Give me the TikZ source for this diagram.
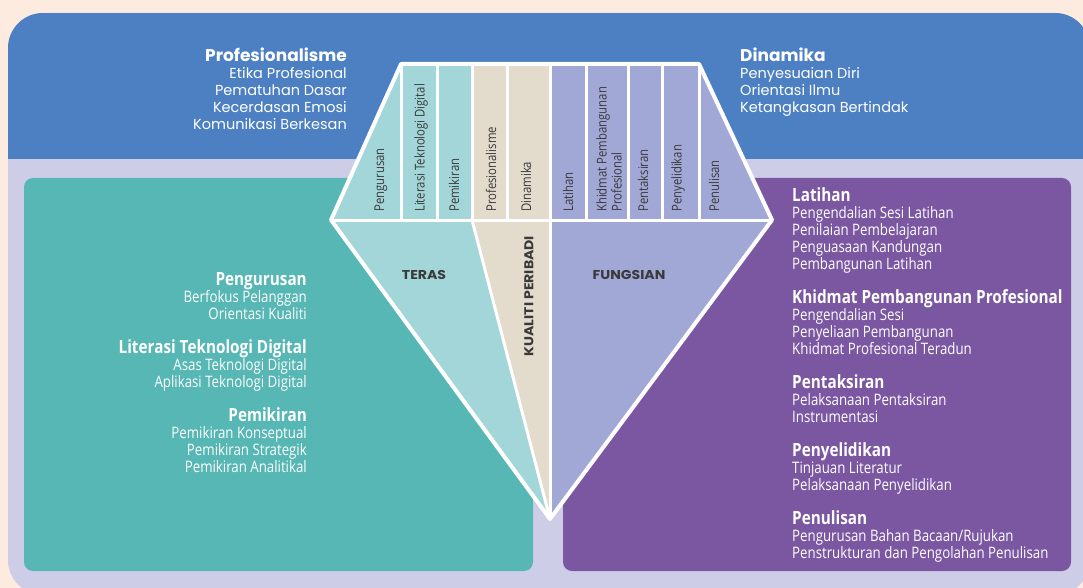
\documentclass[tikz,border=0pt]{standalone}
\usepackage{fontspec}
\newfontfamily\headfont{Poppins}
\newfontfamily\partfont[FakeStretch=1.1]{Poppins}
\newfontfamily\condfont[FakeStretch=0.84]{Open Sans}
\usetikzlibrary{positioning, calc}
\definecolor{peach}{HTML}{FDEBE0}
\definecolor{framebg}{HTML}{CDCDE8}
\definecolor{topblue}{HTML}{4D80C2}
\definecolor{terasbox}{HTML}{56B7B5}
\definecolor{fungsibox}{HTML}{7B57A2}
\definecolor{teraslight}{HTML}{A3D6D9}
\definecolor{kualiti}{HTML}{E3DBCC}
\definecolor{fungsilight}{HTML}{A1A8D6}
\definecolor{inkgrey}{HTML}{3A3A3A}
\newcommand{\headtitle}{\headfont\bfseries\fontsize{17}{17}\selectfont}
\newcommand{\boxtitle}{\condfont\bfseries\fontsize{18.2}{17}\selectfont}
\tikzset{
    sep/.style = {white, line width=3pt}, % white lines inside the gem
    gem/.style = {white, line width=4pt, line join=round},
    cell/.style = {rotate=90, anchor=west, inner sep=0pt, text=inkgrey, align=left,
                   font=\condfont\fontsize{13.5}{15}\selectfont},
    part/.style = {text=inkgrey, inner sep=0pt, font=\partfont\bfseries\fontsize{12.8}{14}\selectfont},
    toptext/.style = {text=white, inner sep=0pt, font=\headfont\fontsize{14.5}{17}\selectfont},
    boxtext/.style = {text=white, inner sep=0pt, font=\condfont\fontsize{15.8}{17}\selectfont}
}
\begin{document}
\begin{tikzpicture}[x=1pt, y=-1pt]
\useasboundingbox (0,0) rectangle (1083,588);
\fill[peach] (0,0) rectangle (1083,588);
% frame and blue band
\fill[framebg, rounded corners=35] (8,13) rectangle (1090,595);
\begin{scope}
  \clip[rounded corners=35] (8,13) rectangle (1090,595);
  \fill[topblue] (8,13) rectangle (1090,159);
\end{scope}
\fill[terasbox, rounded corners=9] (24,178) rectangle (533,571);
\fill[fungsibox, rounded corners=9] (563,178) rectangle (1071,571);

% gem corners
\coordinate (A) at (401,64);
\coordinate (B) at (699,64);
\coordinate (L) at (331,220);
\coordinate (R) at (772,220);
\coordinate (V) at (550,519);
\coordinate (ktop) at (472,64);
\coordinate (kmid) at (472,220);
\coordinate (ftop) at (550,64);
\coordinate (fmid) at (550,220);

\fill[teraslight] (A) -- (ktop) -- (kmid) -- (L) -- cycle;
\fill[kualiti] (ktop) -- (ftop) -- (fmid) -- (kmid) -- cycle;
\fill[fungsilight] (ftop) -- (B) -- (R) -- (fmid) -- cycle;
\fill[teraslight] (L) -- (kmid) -- (V) -- cycle;
\fill[kualiti] (kmid) -- (fmid) -- (V) -- cycle;
\fill[fungsilight] (fmid) -- (R) -- (V) -- cycle;

\foreach \x in {401,437,472,507,550,586,628,662,699}
  \draw[sep] (\x,64) -- (\x,220);
\draw[sep] (L) -- (R);
\draw[sep] (kmid) -- (V);
\draw[sep] (fmid) -- (V);
\draw[gem] (A) -- (B) -- (R) -- (V) -- (L) -- cycle;

% cells
\node[cell] (c1) at (381,212) {Pengurusan};
\node[cell] (c2) at (421,212) {Literasi Teknologi Digital};
\node[cell] (c3) at (454,212) {Pemikiran};
\node[cell] (c4) at (491,212) {Profesionalisme};
\node[cell] (c5) at (526,212) {Dinamika};
\node[cell] (c6) at (568,212) {Latihan};
\node[cell] (c7) at (609,212) {Khidmat Pembangunan\\Profesional};
\node[cell] (c8) at (643,212) {Pentaksiran};
\node[cell] (c9) at (678,212) {Penyelidikan};
\node[cell] (c10) at (714,212) {Penulisan};

\node[part] (teras) at (424,275) {TERAS};
\node[part] (fungsian) at (629,275) {FUNGSIAN};
\node[part, rotate=90] (kp) at (529,296) {KUALITI PERIBADI};

% top texts (base anchor = last line)
\node[toptext, align=right, anchor=base east] (prof) at (347,130)
  {{\headtitle Profesionalisme}\\Etika Profesional\\Pematuhan Dasar\\Kecerdasan Emosi\\Komunikasi Berkesan};
\node[toptext, align=left, anchor=base west] (din) at (740,113)
  {{\headtitle Dinamika}\\Penyesuaian Diri\\Orientasi Ilmu\\Ketangkasan Bertindak};

% teras box
\node[boxtext, align=right, anchor=base east] (peng) at (307,319)
  {{\boxtitle Pengurusan}\\Berfokus Pelanggan\\Orientasi Kualiti};
\node[boxtext, align=right, anchor=base east] (lit) at (307,387)
  {{\boxtitle Literasi Teknologi Digital}\\Asas Teknologi Digital\\Aplikasi Teknologi Digital};
\node[boxtext, align=right, anchor=base east] (pem) at (307,472)
  {{\boxtitle Pemikiran}\\Pemikiran Konseptual\\Pemikiran Strategik\\Pemikiran Analitikal};

% fungsian box
\node[boxtext, align=left, anchor=base west] (lat) at (792,269)
  {{\boxtitle Latihan}\\Pengendalian Sesi Latihan\\Penilaian Pembelajaran\\Penguasaan Kandungan\\Pembangunan Latihan};
\node[boxtext, align=left, anchor=base west] (kpp) at (792,354)
  {{\boxtitle Khidmat Pembangunan Profesional}\\Pengendalian Sesi\\Penyeliaan Pembangunan\\Khidmat Profesional Teradun};
\node[boxtext, align=left, anchor=base west] (pent) at (792,422)
  {{\boxtitle Pentaksiran}\\Pelaksanaan Pentaksiran\\Instrumentasi};
\node[boxtext, align=left, anchor=base west] (peny) at (792,490)
  {{\boxtitle Penyelidikan}\\Tinjauan Literatur\\Pelaksanaan Penyelidikan};
\node[boxtext, align=left, anchor=base west] (penu) at (792,558)
  {{\boxtitle Penulisan}\\Pengurusan Bahan Bacaan/Rujukan\\Penstrukturan dan Pengolahan Penulisan};
\end{tikzpicture}
\end{document}
